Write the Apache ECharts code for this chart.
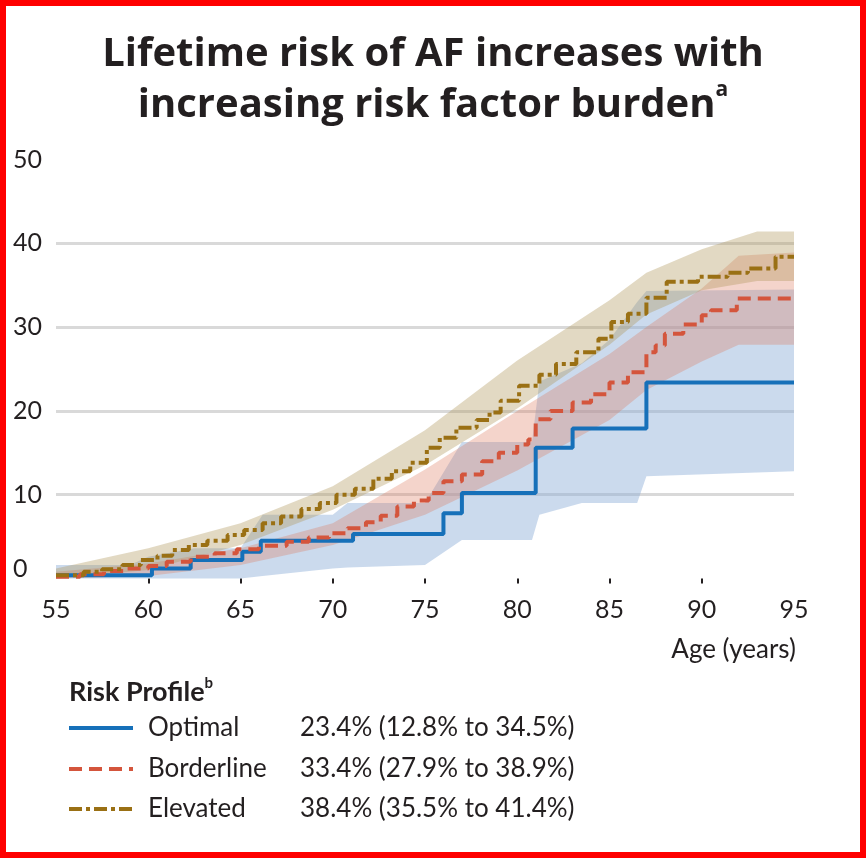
<!DOCTYPE html>
<html>
<head>
<meta charset="utf-8">
<script src="https://cdn.jsdelivr.net/npm/echarts@6/dist/echarts.min.js"></script>
<style>
  html, body { margin: 0; padding: 0; background: #ffffff; }
  #chart { width: 866px; height: 858px; }
</style>
</head>
<body>
<div id="chart"></div>
<script>
// Axis ticks
const xTickValues = [55, 60, 65, 70, 75, 80, 85, 90, 95];
const xTickMarks = [60, 65, 70, 75, 80, 85, 90];
const yTickValues = [0, 10, 20, 30, 40, 50];

// Risk profiles and their final lifetime risk (%) with 95% CI
const profileNames = ['Optimal', 'Borderline', 'Elevated'];
const finalRisk = [23.4, 33.4, 38.4];
const finalLow = [12.8, 27.9, 35.5];
const finalHigh = [34.5, 38.9, 41.4];

// Cumulative incidence step curves: age at which each step begins, and risk (%)
const optimalAge  = [55, 60.2, 62.3, 65.1, 66.1, 71.1, 76, 77, 81, 83, 87, 95];
const optimalRisk = [0.4, 1.2, 2.2, 3.2, 4.5, 5.3, 7.8, 10.2, 15.6, 17.9, 23.4, 23.4];

const borderlineAge  = [55, 56.3, 57.6, 58.8, 60, 61, 62.3, 63.6, 64.8, 66, 67.5, 68.7, 69.8, 70.8, 71.8, 72.6, 73.5, 74.4, 75.2, 76, 77, 78.1, 79, 80, 80.6, 81, 81.8, 83, 84, 85, 86, 87, 87.5, 88, 89, 90, 90.5, 91.9, 95];
const borderlineRisk = [0.2, 0.5, 0.9, 1.2, 1.5, 2.0, 2.6, 3.0, 3.5, 3.9, 4.4, 4.9, 5.4, 6.0, 6.7, 7.5, 8.6, 9.3, 10.2, 11.6, 12.4, 14.0, 15.0, 16.0, 16.6, 19.0, 20.0, 21.0, 22.0, 23.4, 24.6, 27.0, 27.8, 29.2, 30.3, 31.4, 32.0, 33.4, 33.4];

const elevatedAge  = [55, 56.5, 57.5, 58.6, 59.6, 60.5, 61.3, 62.2, 63.2, 64.3, 65.2, 66.2, 67.2, 68.3, 69.3, 70.2, 71.2, 72.2, 73.2, 74.2, 75.1, 75.8, 76.7, 77.8, 78.5, 79.1, 80.1, 81.2, 82.1, 83.2, 84.4, 85.1, 86, 87, 88.1, 89.8, 91.4, 92.5, 94, 95];
const elevatedRisk = [0.4, 0.8, 1.1, 1.6, 2.2, 2.7, 3.4, 4.0, 4.5, 5.2, 5.8, 6.6, 7.4, 8.3, 9.0, 10.0, 10.7, 11.9, 12.8, 13.8, 15.6, 16.8, 18.0, 18.9, 19.8, 21.2, 23.0, 24.3, 25.6, 27.0, 28.6, 30.6, 31.6, 33.5, 35.4, 36.0, 36.5, 37.0, 38.4, 38.4];

// Confidence bands (lower / upper bound, %)
const optimalBandAge = [55, 59, 60, 62.5, 65, 66.2, 70, 70.8, 75, 77, 80.8, 81.2, 83.5, 85, 86.5, 87, 95];
const optimalBandLow = [0, 0, 0, 0, 0, 0.3, 1.2, 1.3, 1.6, 4.6, 4.6, 7.6, 9.0, 9.0, 9.0, 12.2, 12.8];
const optimalBandHigh = [1.6, 1.6, 2.6, 3.6, 3.6, 7.6, 7.6, 9.0, 9.0, 16.3, 16.3, 23.5, 25.7, 28.5, 33.0, 34.3, 34.5];

const borderlineBandAge = [55, 60, 65, 70, 75, 80, 85, 87, 90, 92, 95];
const borderlineBandLow = [0, 0.3, 1.6, 4.0, 7.6, 12.9, 18.9, 22.5, 25.9, 27.9, 27.9];
const borderlineBandHigh = [0.8, 1.8, 3.6, 6.6, 13.0, 20.0, 26.8, 30.0, 34.6, 38.5, 38.9];

const elevatedBandAge = [55, 60, 65, 70, 75, 80, 85, 87, 90, 93, 95];
const elevatedBandLow = [0, 1.0, 4.0, 8.2, 13.5, 20.3, 27.9, 31.5, 34.4, 35.5, 35.5];
const elevatedBandHigh = [1.2, 3.6, 6.6, 11.0, 17.7, 26.0, 33.2, 36.5, 39.3, 41.4, 41.4];

const FONT = 'Lato, "Open Sans", sans-serif';
const TITLE_FONT = '"Open Sans", Lato, sans-serif';
const INK = '#231f20';
const COLORS = { Optimal: '#1670b9', Borderline: '#d4553c', Elevated: '#9a7014' };
const DASHES = { Optimal: null, Borderline: [13, 7], Elevated: [13, 4, 4, 4] };
const BAND_FILL = {
  Optimal: 'rgba(140,172,215,0.45)',
  Borderline: 'rgba(222,122,92,0.32)',
  Elevated: 'rgba(175,150,90,0.36)'
};

function pairs(xs, ys) { return xs.map((x, i) => [x, ys[i]]); }

// Shaded confidence band drawn as one polygon between the bounds
function bandSeries(name, ages, low, high) {
  return {
    type: 'custom',
    name: name + ' CI',
    silent: true,
    data: ages.map((a, i) => [a, low[i], high[i]]),
    encode: { x: 0, y: [1, 2] },
    renderItem: function (params, api) {
      if (params.dataIndex !== 0) return null;
      const upper = ages.map((a, i) => api.coord([a, high[i]]));
      const lower = ages.map((a, i) => api.coord([a, low[i]])).reverse();
      return {
        type: 'polygon',
        shape: { points: upper.concat(lower) },
        style: { fill: BAND_FILL[name] }
      };
    }
  };
}

function stepSeries(name, ages, risk) {
  return {
    type: 'line',
    name: name,
    step: 'end',
    symbol: 'none',
    data: pairs(ages, risk),
    itemStyle: { color: COLORS[name] },
    lineStyle: { color: COLORS[name], width: 4, type: DASHES[name] || 'solid', cap: 'butt' }
  };
}

function ciText(i) {
  return finalRisk[i].toFixed(1) + '% (' + finalLow[i].toFixed(1) + '% to ' + finalHigh[i].toFixed(1) + '%)';
}

// Key: line sample, profile name and final risk with CI
const legendRowY = [728, 769, 809];
const keyGraphics = [];
profileNames.forEach((n, i) => {
  keyGraphics.push({
    type: 'line',
    shape: { x1: 69, y1: legendRowY[i], x2: 133, y2: legendRowY[i] },
    style: { stroke: COLORS[n], lineWidth: 4, lineDash: DASHES[n], lineCap: 'butt' }
  });
  keyGraphics.push({
    type: 'text', x: 148, y: legendRowY[i],
    style: { text: n, fontFamily: FONT, fontSize: 26, fill: INK, verticalAlign: 'middle' }
  });
  keyGraphics.push({
    type: 'text', x: 300, y: legendRowY[i],
    style: { text: ciText(i), fontFamily: FONT, fontSize: 26, fill: INK, verticalAlign: 'middle' }
  });
});

const chart = echarts.init(document.getElementById('chart'), null, { renderer: 'canvas' });

chart.setOption({
  animation: false,
  backgroundColor: '#ffffff',
  title: {
    text: 'Lifetime risk of AF increases with\nincreasing risk factor burden{sup|a}',
    left: 'center',
    top: 24,
    textStyle: {
      fontFamily: TITLE_FONT,
      fontSize: 40,
      fontWeight: 'bold',
      color: INK,
      lineHeight: 51,
      rich: {
        sup: { fontFamily: TITLE_FONT, fontSize: 21, fontWeight: 'bold', color: INK, verticalAlign: 'top', lineHeight: 40 }
      }
    }
  },
  grid: { left: 56, right: 72, top: 159.5, bottom: 279.5, containLabel: false },
  xAxis: {
    type: 'value',
    min: 55,
    max: 95,
    interval: 5,
    axisLine: { show: false },
    axisTick: { show: true, length: 5, customValues: xTickMarks, lineStyle: { color: INK, width: 2 } },
    axisLabel: { fontFamily: FONT, fontSize: 25, color: INK, margin: 19, customValues: xTickValues },
    splitLine: { show: false }
  },
  yAxis: {
    type: 'value',
    min: 0,
    max: 50,
    interval: 10,
    axisLine: { show: false },
    axisTick: { show: false },
    axisLabel: {
      fontFamily: FONT, fontSize: 25, color: INK, align: 'left', margin: 43,
      formatter: v => (v === 0 ? '{z|0}' : String(v)),
      rich: { z: { fontFamily: FONT, fontSize: 25, color: INK, padding: [0, 0, 20, 0] } }
    },
    splitLine: { show: true, showMinLine: false, showMaxLine: false, lineStyle: { color: '#d9d9d9', width: 3 } }
  },
  graphic: [
    {
      type: 'rect',
      shape: { x: 0, y: 0, width: 866, height: 858 },
      style: { fill: 'none', stroke: '#ff0000', lineWidth: 12 },
      z: 100
    },
    {
      type: 'text',
      left: 69,
      top: 676,
      style: {
        text: '{t|Risk Profile}{s|b}',
        rich: {
          t: { fontFamily: FONT, fontSize: 27, fontWeight: 'bold', fill: INK, lineHeight: 32 },
          s: { fontFamily: FONT, fontSize: 15, fontWeight: 'bold', fill: INK, verticalAlign: 'top', lineHeight: 24 }
        }
      }
    },
    {
      type: 'text',
      right: 866 - 796,
      top: 637,
      style: { text: 'Age (years)', fontFamily: FONT, fontSize: 26, fill: INK }
    }
  ].concat(keyGraphics),
  series: [
    bandSeries('Optimal', optimalBandAge, optimalBandLow, optimalBandHigh),
    stepSeries('Optimal', optimalAge, optimalRisk),
    bandSeries('Borderline', borderlineBandAge, borderlineBandLow, borderlineBandHigh),
    stepSeries('Borderline', borderlineAge, borderlineRisk),
    bandSeries('Elevated', elevatedBandAge, elevatedBandLow, elevatedBandHigh),
    stepSeries('Elevated', elevatedAge, elevatedRisk)
  ]
});
</script>
</body>
</html>
